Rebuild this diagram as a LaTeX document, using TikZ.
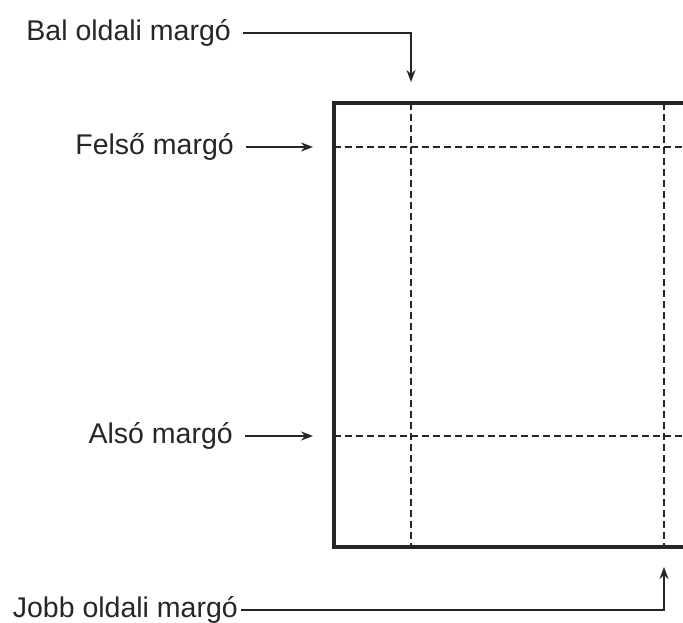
\documentclass[tikz,border=0pt]{standalone}
\usepackage{fontspec}
\setmainfont{Liberation Sans}
\usepackage{tikz}
\usetikzlibrary{arrows.meta}

\begin{document}
\begin{tikzpicture}[x=1pt,y=-1pt,
  lab/.style={anchor=east,inner sep=0pt,text=black!85,font=\fontsize{28.5}{30}\selectfont,text height=21pt,text depth=6pt},
  arr/.style={-{Stealth[length=12pt,width=9pt]},line width=1.8pt,draw=black!85,shorten <=12pt},
  lap/.style={line width=3.4pt,draw=black!85},
  marg/.style={line width=2pt,draw=black!85,dash pattern=on 7pt off 4pt}]
\useasboundingbox (0,0) rectangle (683,623);
\clip (0,0) rectangle (683,623);
% lap es margok
\coordinate (ft) at (334,103); \coordinate (ab) at (700,547);
\draw[marg] (411,103) -- (411,547);
\draw[marg] (664,103) -- (664,547);
\draw[marg] (334,147) -- (700,147);
\draw[marg] (334,436) -- (700,436);
\draw[lap] (700,103) -- (ft) |- (ab);
% feliratok
\node[lab] (bal) at (231,33) {Bal oldali margó};
\node[lab] (felso) at (234,147) {Felső margó};
\node[lab] (also) at (233,436) {Alsó margó};
\node[lab] (jobb) at (238,610) {Jobb oldali margó};
\coordinate (balv) at (411,82);
\coordinate (felsov) at (313,147);
\coordinate (alsov) at (313,436);
\coordinate (jobbv) at (664,567);
\draw[arr] (bal.east) -| (balv);
\draw[arr] (felso.east) -- (felsov);
\draw[arr] (also.east) -- (alsov);
\draw[arr,shorten <=3pt] (jobb.east) -| (jobbv);
\end{tikzpicture}
\end{document}
